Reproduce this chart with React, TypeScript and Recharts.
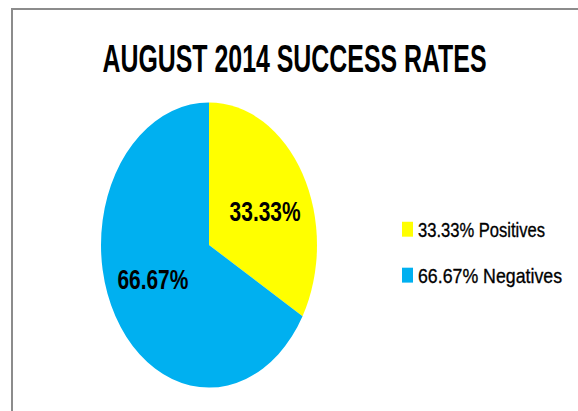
import { PieChart, Pie, Cell, Legend } from 'recharts'

const categories = ['Positives', 'Negatives']
const rates = [33.33, 66.67]
const colors = ['#FFFF00', '#00B0F0']
const title = 'AUGUST 2014 SUCCESS RATES'

const data = categories.map((name, i) => ({ name, value: rates[i] }))

const FONT = '"Liberation Sans Narrow", "Liberation Sans", Arial, sans-serif'
const STRETCH = 1.32 // the source picture is stretched vertically
const RADIAN = Math.PI / 180

function SliceLabel(props: any) {
  const { cx, cy, midAngle, outerRadius, value } = props
  const r = outerRadius * 0.6
  const x = cx + r * Math.cos(-midAngle * RADIAN)
  const y = cy + r * 0.8 * Math.sin(-midAngle * RADIAN)
  return (
    <text
      x={x}
      y={y + 7.5}
      textAnchor="middle"
      fontFamily={FONT}
      fontWeight="bold"
      fontSize={20.8}
      fill="#000"
      textLength={71}
      lengthAdjust="spacingAndGlyphs"
    >
      {value.toFixed(2)}%
    </text>
  )
}

// legend drawn in the data's own order (Recharts sorts by name otherwise)
function LegendBox() {
  return (
    <svg width={170} height={60} style={{ display: 'block' }}>
      {data.map((d, i) => (
        <g key={d.name} transform={`translate(0, ${i * 34.8})`}>
          <rect x={0} y={3} width={11} height={11.3} fill={colors[i]} />
          <text
            x={16}
            y={14.3}
            fontFamily={FONT}
            fontSize={15.5}
            fill="#000"
            stroke="#000"
            strokeWidth={0.25}
            textLength={i === 0 ? 127 : 144}
            lengthAdjust="spacingAndGlyphs"
          >
            {`${d.value.toFixed(2)}% ${d.name}`}
          </text>
        </g>
      ))}
    </svg>
  )
}

export default function App() {
  return (
    <div
      style={{
        position: 'absolute',
        left: 0,
        top: 0,
        width: 578,
        height: 411,
        overflow: 'hidden',
        background: '#fff',
      }}
    >
      <div
        style={{
          position: 'absolute',
          left: 11,
          top: 8,
          width: 700,
          height: 500,
          border: '2px solid #8c8c8c',
        }}
      />
      <div
        style={{
          position: 'absolute',
          left: 0,
          top: 0,
          transform: `scaleY(${STRETCH})`,
          transformOrigin: '0 0',
        }}
      >
        <PieChart width={578} height={312} margin={{ top: 0, right: 0, bottom: 0, left: 0 }}>
          <text
            x={294.5}
            y={54.5}
            textAnchor="middle"
            fontFamily={FONT}
            fontWeight="bold"
            fontSize={30}
            fill="#000"
            textLength={384}
            lengthAdjust="spacingAndGlyphs"
          >
            {title}
          </text>
          <Pie
            data={data}
            dataKey="value"
            nameKey="name"
            cx={209}
            cy={185.6}
            outerRadius={108}
            startAngle={90}
            endAngle={-270}
            stroke="none"
            labelLine={false}
            label={SliceLabel}
            isAnimationActive={false}
          >
            {data.map((d, i) => (
              <Cell key={d.name} fill={colors[i]} />
            ))}
          </Pie>
          <Legend
            layout="vertical"
            content={LegendBox}
            wrapperStyle={{ left: 402, top: 165, width: 170 }}
          />
        </PieChart>
      </div>
    </div>
  )
}
